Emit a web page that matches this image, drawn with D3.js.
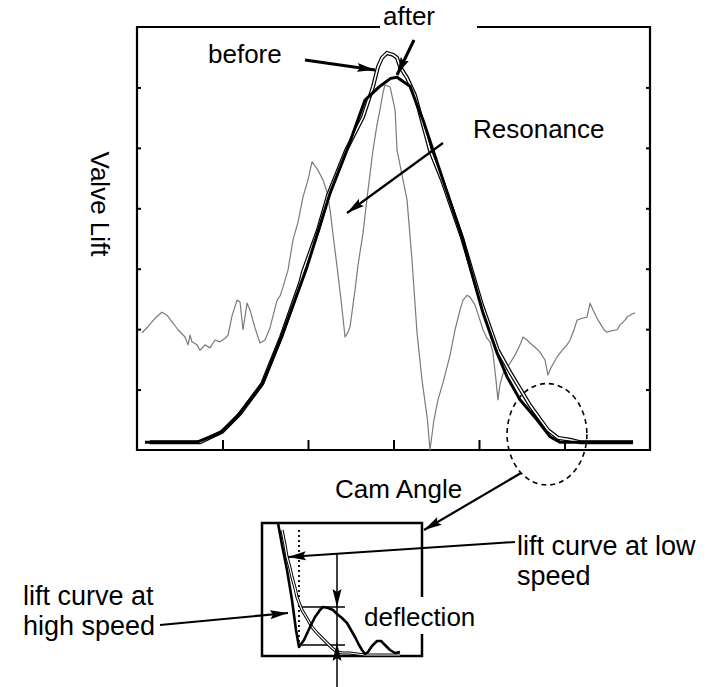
<!DOCTYPE html>
<html>
<head>
<meta charset="utf-8">
<script src="https://cdn.jsdelivr.net/npm/d3@7"></script>
<style>
  body { margin: 0; background: #fff; }
  text { font-family: "Liberation Sans", Arial, sans-serif; fill: #000; }
</style>
</head>
<body>
<div id="chart"></div>
<script>
// cam angle (deg) vs valve lift (arbitrary units)
var angleTicks = [60, 120, 180, 240, 300];
var liftTicks = [1, 2, 3, 4, 5, 6];

// lift curve after the change (thick)
var liftAfter = [[5.6,0.13],[42.1,0.13],[58.2,0.28],[70.2,0.55],[88.4,1.11],[102.5,1.94],[119.3,3.03],
    [135.5,4.25],[148.1,5.01],[160.0,5.79],[170.5,6.02],[178,6.15],[182.5,6.17],[191.6,6.02],[196.5,5.71],
    [200.7,5.46],[214.7,4.47],[228.8,3.48],[233.7,3.03],[242.8,2.27],[252.6,1.61],[259.7,1.21],[268.8,0.83],
    [280.7,0.50],[289.8,0.22],[296.8,0.13],[348.1,0.13]];

// lift curve before (double line)
var liftBefore = [[9,0.13],[44.2,0.13],[59.7,0.30],[72.3,0.60],[87.7,1.09],[101.1,1.87],[114.4,2.76],
    [116.5,2.95],[127.0,3.64],[134.1,4.22],[146.7,4.96],[158.6,5.51],[165.6,6.01],[169.1,6.34],[171.9,6.49],
    [175.4,6.57],[179.7,6.54],[182.5,6.49],[184.6,6.34],[189.5,6.16],[195.1,5.87],[205.6,4.96],[214.0,4.47],
    [228.1,3.51],[242.1,2.40],[253.3,1.65],[261.8,1.29],[275.8,0.74],[288.4,0.33],[295.5,0.20],[303.9,0.17],
    [310.9,0.13],[348.1,0.13]];

// resonance trace (grey)
var resonance = [[3.5,1.94],[7.7,2.04],[12.6,2.18],[17.5,2.28],[21.1,2.23],[24.6,2.12],[28.8,1.99],[33.7,1.87],
    [35.8,1.74],[37.2,1.9],[38.6,1.79],[42.1,1.74],[44.2,1.65],[47.7,1.74],[51.2,1.69],[54.7,1.82],[58.2,1.79],
    [61.8,1.85],[63.9,1.90],[66.7,2.22],[70.2,2.48],[72.3,2.45],[74.4,1.99],[77.2,2.43],[79.3,2.32],[82.8,2.02],
    [86.3,1.77],[89.8,1.82],[93.3,2.02],[98.3,2.48],[100.4,2.55],[102.5,2.70],[106.0,2.98],[109.5,3.48],
    [113.0,3.77],[116.5,4.19],[120.0,4.47],[122.8,4.77],[127.0,4.63],[130.5,4.47],[133.3,4.27],[135.5,3.97],
    [137.6,3.56],[140.4,3.03],[143.2,2.48],[146.0,1.87],[148.1,1.95],[149.5,2.04],[153.0,2.65],[155.1,3.06],
    [158.6,3.59],[162.1,4.30],[165.6,4.96],[168.4,5.38],[170.5,5.63],[172.6,5.91],[174.0,6.04],[177.6,6.01],
    [181.1,5.63],[182.5,4.96],[186.0,4.55],[189.5,4.14],[193.0,3.14],[196.5,1.94],[200.0,1.16],[203.8,0.50],
    [205.6,0],[208.4,0.50],[211.2,0.83],[214.7,1.11],[219.7,1.57],[223.2,1.99],[226.7,2.32],[228.8,2.48],
    [231.6,2.56],[233.7,2.53],[237.2,2.40],[240.7,2.15],[242.8,1.99],[245.6,1.85],[247.7,1.79],[249.8,1.61],
    [251.9,1.16],[253.3,0.83],[254.7,1.08],[256.9,1.27],[259.7,1.36],[261.8,1.44],[265.3,1.57],[268.8,1.74],
    [270.9,1.87],[273.7,1.82],[275.8,1.77],[279.3,1.70],[282.8,1.62],[286.3,1.49],[288.4,1.24],[290.5,1.36],
    [294.8,1.54],[298.3,1.65],[301.8,1.74],[303.9,1.82],[306.7,1.99],[308.8,2.15],[312.3,2.18],[315.8,2.20],
    [317.9,2.43],[320.0,2.32],[322.8,2.18],[324.9,2.10],[327.7,1.99],[329.8,1.95],[332.6,1.97],[336.9,1.99],
    [339.0,2.07],[342.5,2.15],[343.9,2.20],[347.4,2.25],[349.5,2.27]];

// enlarged closing flank (inset), local units
var insetHigh = [[16,133],[20,111],[25,86],[30,56],[34,26],[37,9],[42,16],[48,29],[53,39],[58,46],[61,49],
    [66,48],[71,46],[75,42],[80,38],[85,33],[89,26],[93,19],[97,11],[100,6],[103,2],[106,4],[110,10],[115,15],
    [119,15],[123,11],[128,6],[133,3],[138,4]];
var insetLow = [[20,126],[23,111],[25,99],[28,88],[30,79],[33,68],[35,59],[38,51],[40,46],[43,41],[46,36],
    [50,29],[55,23],[60,18],[65,13],[70,8],[75,4],[81,3],[88,3],[95,2],[103,1],[118,1],[138,1]];
var seatAngle = 37;          // dotted line in inset
var deflectionLevels = [49, 11];
var deflectionAngle = 75;

// region circled on main chart [angle, lift, rAngle, rLift]
var zoomRegion = [287.7, 0.26, 28, 0.84];

var width = 709, height = 687;
var plot = {left: 137, right: 650, top: 27, bottom: 450};
var box = {left: 262, right: 422, top: 523, bottom: 656};

var svg = d3.select("#chart").append("svg")
    .attr("width", width)
    .attr("height", height);

var defs = svg.append("defs");
defs.append("marker")
    .attr("id", "arrow")
    .attr("markerUnits", "userSpaceOnUse")
    .attr("markerWidth", 18).attr("markerHeight", 10)
    .attr("refX", 18).attr("refY", 5)
    .attr("orient", "auto")
    .append("path")
    .attr("d", "M0,0.5 L18,5 L0,9.5 L3,5 Z")
    .attr("fill", "#000");

var x = d3.scaleLinear().domain([0, 360]).range([plot.left, plot.right]);
var y = d3.scaleLinear().domain([0, 7]).range([plot.bottom, plot.top]);

// ticks (inward, no labels)
svg.append("g")
    .attr("transform", "translate(0," + plot.bottom + ")")
    .call(d3.axisBottom(x).tickValues(angleTicks).tickSize(-10).tickFormat(""))
    .call(function (g) { g.select(".domain").remove(); })
    .selectAll("line").attr("stroke-width", 2);

svg.append("g")
    .attr("transform", "translate(" + plot.left + ",0)")
    .call(d3.axisLeft(y).tickValues(liftTicks).tickSize(-4).tickFormat(""))
    .call(function (g) { g.select(".domain").remove(); })
    .selectAll("line").attr("stroke-width", 2);

svg.append("g")
    .attr("transform", "translate(" + plot.right + ",0)")
    .call(d3.axisRight(y).tickValues(liftTicks).tickSize(-4).tickFormat(""))
    .call(function (g) { g.select(".domain").remove(); })
    .selectAll("line").attr("stroke-width", 2);

// frame, top edge broken for the "after" label
svg.append("path")
    .attr("d", "M380," + plot.top + "H" + plot.left + "V" + plot.bottom + "H" + plot.right +
        "V" + plot.top + "H477")
    .attr("fill", "none")
    .attr("stroke", "#000")
    .attr("stroke-width", 2.2);

var line = d3.line()
    .x(function (d) { return x(d[0]); })
    .y(function (d) { return y(d[1]); });

svg.append("path")
    .datum(resonance)
    .attr("d", line)
    .attr("fill", "none")
    .attr("stroke", "#7a7a7a")
    .attr("stroke-width", 1.2)
    .attr("stroke-linejoin", "round");

svg.append("path")
    .datum(liftBefore)
    .attr("d", line)
    .attr("fill", "none")
    .attr("stroke", "#000")
    .attr("stroke-width", 4);
svg.append("path")
    .datum(liftBefore)
    .attr("d", line)
    .attr("fill", "none")
    .attr("stroke", "#fff")
    .attr("stroke-width", 1.6);

svg.append("path")
    .datum(liftAfter)
    .attr("d", line)
    .attr("fill", "none")
    .attr("stroke", "#000")
    .attr("stroke-width", 3)
    .attr("stroke-linejoin", "round");

// dashed circle round the closing flank
svg.append("ellipse")
    .attr("cx", x(zoomRegion[0]))
    .attr("cy", y(zoomRegion[1]))
    .attr("rx", x(zoomRegion[2]) - x(0))
    .attr("ry", y(0) - y(zoomRegion[3]))
    .attr("fill", "none")
    .attr("stroke", "#000")
    .attr("stroke-width", 1.6)
    .attr("stroke-dasharray", "5,4");

function arrow(x1, y1, x2, y2, w) {
    svg.append("line")
        .attr("x1", x1).attr("y1", y1)
        .attr("x2", x2).attr("y2", y2)
        .attr("stroke", "#000")
        .attr("stroke-width", w || 2.2)
        .attr("marker-end", "url(#arrow)");
}

// labels
function label(tx, ty, str, size) {
    return svg.append("text")
        .attr("x", tx).attr("y", ty)
        .attr("font-size", (size || 26) + "px")
        .text(str);
}
label(383, 25, "after");
label(208, 63, "before");
label(473, 138, "Resonance");
label(335, 498, "Cam Angle");
svg.append("text")
    .attr("transform", "translate(91,204) rotate(90)")
    .attr("text-anchor", "middle")
    .attr("font-size", "26px")
    .text("Valve Lift");

arrow(305, 60, 375, 70, 3);
arrow(414, 40, 397, 75, 3);
arrow(443, 143, 347, 213, 2.2);
arrow(521, 473, 424, 530, 2.2);

// inset
var ix = d3.scaleLinear().domain([0, 160]).range([box.left, box.right]);
var iy = d3.scaleLinear().domain([0, 133]).range([box.bottom, box.top]);
var iline = d3.line()
    .x(function (d) { return ix(d[0]); })
    .y(function (d) { return iy(d[1]); });

svg.append("path")
    .attr("d", "M" + box.right + ",597V" + box.top + "H" + box.left + "V" + box.bottom +
        "H" + box.right + "V634")
    .attr("fill", "none")
    .attr("stroke", "#000")
    .attr("stroke-width", 2.5);

svg.append("line")
    .attr("x1", ix(seatAngle)).attr("x2", ix(seatAngle))
    .attr("y1", iy(126)).attr("y2", iy(deflectionLevels[1]))
    .attr("stroke", "#000")
    .attr("stroke-width", 1.8)
    .attr("stroke-dasharray", "2,3");

svg.selectAll(".dlevel")
    .data(deflectionLevels)
    .enter().append("line")
    .attr("class", "dlevel")
    .attr("x1", ix(seatAngle)).attr("x2", ix(seatAngle + 46))
    .attr("y1", function (d) { return iy(d); })
    .attr("y2", function (d) { return iy(d); })
    .attr("stroke", "#000")
    .attr("stroke-width", 1.5);

svg.append("path")
    .datum(insetLow)
    .attr("d", iline)
    .attr("fill", "none")
    .attr("stroke", "#000")
    .attr("stroke-width", 3.2);
svg.append("path")
    .datum(insetLow)
    .attr("d", iline)
    .attr("fill", "none")
    .attr("stroke", "#fff")
    .attr("stroke-width", 1.2);

svg.append("path")
    .datum(insetHigh)
    .attr("d", iline)
    .attr("fill", "none")
    .attr("stroke", "#000")
    .attr("stroke-width", 2.6)
    .attr("stroke-linejoin", "round");

// deflection arrows
svg.append("line")
    .attr("x1", ix(deflectionAngle)).attr("x2", ix(deflectionAngle))
    .attr("y1", iy(deflectionLevels[0])).attr("y2", iy(deflectionLevels[1]))
    .attr("stroke", "#000").attr("stroke-width", 1.5);
arrow(ix(deflectionAngle), 553, ix(deflectionAngle), iy(deflectionLevels[0]), 1.5);
arrow(ix(deflectionAngle), 687, ix(deflectionAngle), iy(deflectionLevels[1]) - 2, 1.5);

arrow(515, 542, 288, 557, 2);
arrow(160, 625, 288, 613, 2.2);

label(364, 626, "deflection");
label(517, 555, "lift curve at low", 27);
label(517, 585, "speed", 27);
label(23, 605, "lift curve at", 27);
label(23, 635, "high speed", 27);
</script>
</body>
</html>
